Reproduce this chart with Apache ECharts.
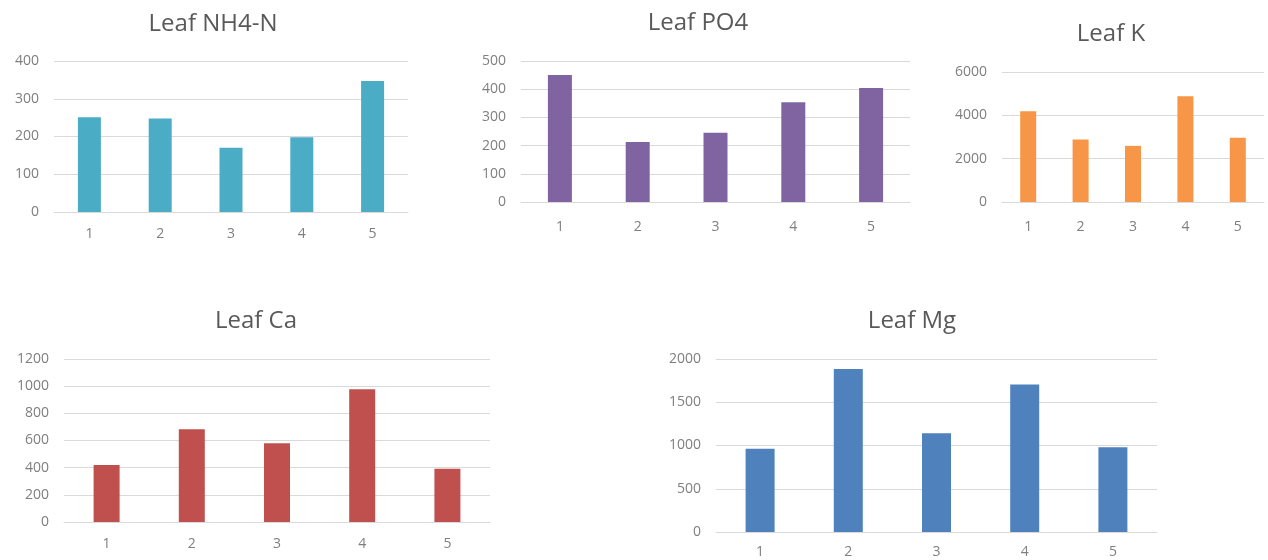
<!DOCTYPE html>
<html>
<head>
<meta charset="utf-8">
<script src="https://cdn.jsdelivr.net/npm/echarts@6/dist/echarts.min.js"></script>
<style>
  html, body { margin: 0; padding: 0; background: #ffffff; }
  #chart { width: 1268px; height: 560px; }
</style>
</head>
<body>
<div id="chart"></div>
<script>
// Sample numbers shared by every panel
const categories = ['1', '2', '3', '4', '5'];

// Leaf nutrient concentrations per sample
const nh4nValues = [251, 248, 170, 198, 347];
const po4Values = [450, 213, 246, 354, 404];
const kValues = [4190, 2890, 2590, 4880, 2960];
const caValues = [419, 683, 579, 978, 392];
const mgValues = [963, 1884, 1141, 1706, 979];

const titles = ['Leaf NH4-N', 'Leaf PO4', 'Leaf K', 'Leaf Ca', 'Leaf Mg'];
const seriesData = [nh4nValues, po4Values, kValues, caValues, mgValues];

// Panel layout and styling
const panels = [
  { grid: { left: 54, top: 61, width: 354, height: 151 }, max: 400, interval: 100, color: '#4bacc6', barWidth: 23, title: [213, 23.5], labelMargin: 15 },
  { grid: { left: 521, top: 61, width: 389, height: 141 }, max: 500, interval: 100, color: '#8064a2', barWidth: 24, title: [698, 22.5], labelMargin: 18 },
  { grid: { left: 1002, top: 72, width: 262, height: 130 }, max: 6000, interval: 2000, color: '#f79646', barWidth: 16, title: [1111, 33.5], labelMargin: 18 },
  { grid: { left: 64, top: 359, width: 426, height: 163 }, max: 1200, interval: 200, color: '#c0504d', barWidth: 26, title: [256, 320], labelMargin: 15 },
  { grid: { left: 716, top: 359, width: 441, height: 173 }, max: 2000, interval: 500, color: '#4f81bd', barWidth: 29, title: [912, 320], labelMargin: 13 }
];

const FONT = '"Open Sans", "Noto Sans", sans-serif';
const TITLE_SIZE = 24;
const LABEL_SIZE = 14;

const option = {
  backgroundColor: '#ffffff',
  animation: false,
  title: panels.map((p, i) => ({
    text: titles[i],
    left: p.title[0],
    top: p.title[1] - TITLE_SIZE * 0.47,
    textAlign: 'center',
    padding: 0,
    textStyle: { fontFamily: FONT, fontSize: TITLE_SIZE, fontWeight: 'normal', color: '#595959' }
  })),
  grid: panels.map(p => Object.assign({ containLabel: false }, p.grid)),
  xAxis: panels.map((p, i) => ({
    type: 'category',
    gridIndex: i,
    data: categories,
    axisLine: { lineStyle: { color: '#d9d9d9', width: 1 } },
    axisTick: { show: false },
    axisLabel: { color: '#7f7f7f', fontFamily: FONT, fontSize: LABEL_SIZE, margin: p.labelMargin },
    splitLine: { show: false }
  })),
  yAxis: panels.map((p, i) => ({
    type: 'value',
    gridIndex: i,
    min: 0,
    max: p.max,
    interval: p.interval,
    axisLine: { show: false },
    axisTick: { show: false },
    axisLabel: {
      color: '#7f7f7f', fontFamily: FONT, fontSize: LABEL_SIZE, margin: 15,
      formatter: v => String(v)
    },
    splitLine: { lineStyle: { color: '#d9d9d9', width: 1 } }
  })),
  series: panels.map((p, i) => ({
    type: 'bar',
    xAxisIndex: i,
    yAxisIndex: i,
    data: seriesData[i],
    barWidth: p.barWidth,
    itemStyle: { color: p.color }
  }))
};

const chart = echarts.init(document.getElementById('chart'), null, { renderer: 'canvas' });
chart.setOption(option);
</script>
</body>
</html>
